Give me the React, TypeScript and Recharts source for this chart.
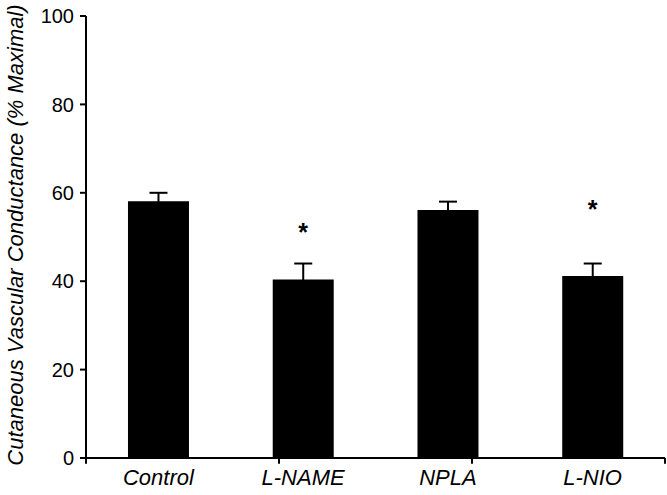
import { Bar, ComposedChart, ErrorBar, ReferenceDot, ReferenceLine, XAxis, YAxis } from 'recharts'

const categories = ['Control', 'L-NAME', 'NPLA', 'L-NIO']
const means = [58.1, 40.4, 56.1, 41.2]
const sems = [1.9, 3.6, 1.9, 2.8]
// asterisk heights (y value of the mark), null = no significance mark
const sigMarks: (number | null)[] = [null, 52, null, 57.3]
const yTicks = [0, 20, 40, 60, 80, 100]
// x-axis tick marks sit on the category boundaries, not the centres
const boundaryTicks = [0, 1, 2, 3, 4]

const FONT = '"Liberation Sans", Arial, sans-serif'

const rows = categories.map((name, i) => ({
  name,
  mean: means[i],
  err: sems[i],
}))

function Asterisk(props: { cx?: number; cy?: number }) {
  const { cx = 0, cy = 0 } = props
  return (
    <text x={cx} y={cy + 13} textAnchor="middle" fontFamily={FONT} fontSize={25} fontWeight="bold" fill="#000">
      *
    </text>
  )
}

function YLabel(props: { viewBox?: { x: number; y: number; width: number; height: number } }) {
  const vb = props.viewBox ?? { x: 0, y: 0, width: 0, height: 0 }
  const cx = 15
  const cy = vb.y + vb.height / 2 - 2
  return (
    <text
      x={cx}
      y={cy}
      transform={`rotate(-90, ${cx}, ${cy})`}
      textAnchor="middle"
      dominantBaseline="central"
      fontFamily={FONT}
      fontStyle="italic"
      fontSize={22}
      fill="#000"
    >
      Cutaneous Vascular Conductance (% Maximal)
    </text>
  )
}

export default function App() {
  return (
    <div style={{ position: 'absolute', left: 0, top: 0, width: 667, height: 495, background: '#fff' }}>
      <ComposedChart
        width={667}
        height={495}
        data={rows}
        margin={{ top: 16, right: 2, bottom: 0, left: 0 }}
        barCategoryGap="29%"
      >
        <XAxis
          dataKey="name"
          height={37}
          axisLine={{ stroke: '#000', strokeWidth: 2 }}
          tickLine={false}
          tick={{ fill: '#000', fontSize: 22, fontStyle: 'italic', fontFamily: FONT }}
          tickMargin={5}
        />
        <XAxis xAxisId="grid" type="number" domain={[0, 4]} ticks={boundaryTicks} hide />
        <YAxis
          domain={[0, 100]}
          ticks={yTicks}
          width={86}
          axisLine={{ stroke: '#000', strokeWidth: 2 }}
          tickLine={{ stroke: '#000', strokeWidth: 2 }}
          tickSize={6}
          tickMargin={6}
          tick={{ fill: '#000', fontSize: 20, fontFamily: FONT }}
          label={{ content: <YLabel /> }}
          interval={0}
        />
        <Bar dataKey="mean" fill="#000" isAnimationActive={false}>
          <ErrorBar dataKey="err" direction="y" width={9} stroke="#000" strokeWidth={2} />
        </Bar>
        {boundaryTicks.map((t) => (
          <ReferenceLine
            key={`b${t}`}
            xAxisId="grid"
            segment={[
              { x: t, y: 0 },
              { x: t, y: -1.3 },
            ]}
            stroke="#000"
            strokeWidth={2}
            ifOverflow="visible"
          />
        ))}
        {categories.map((c, i) =>
          sigMarks[i] === null ? null : (
            <ReferenceDot key={c} x={c} y={sigMarks[i] as number} r={0} shape={<Asterisk />} />
          ),
        )}
      </ComposedChart>
    </div>
  )
}
